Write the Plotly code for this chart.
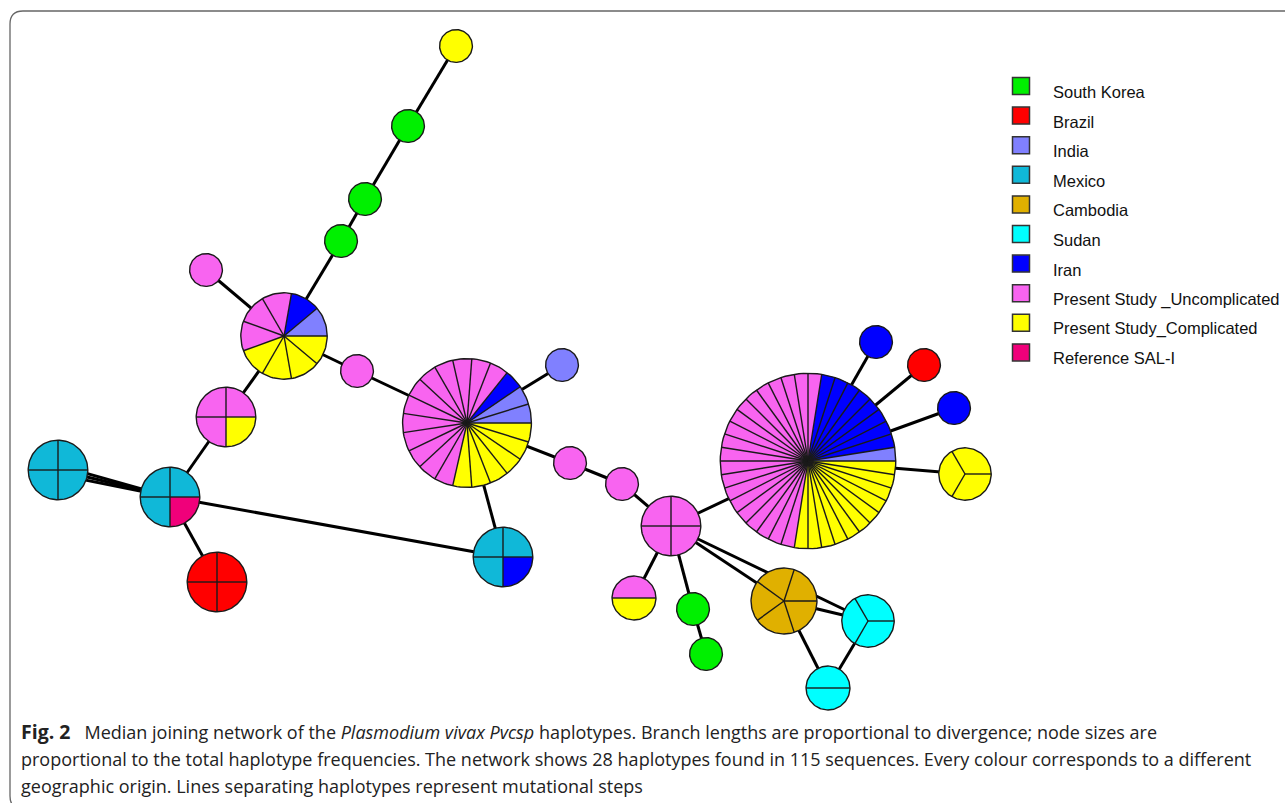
import numpy as np
import plotly.graph_objects as go

# ---------------- data ----------------
populations = ["South Korea", "Brazil", "India", "Mexico", "Cambodia", "Sudan", "Iran",
               "Present Study _Uncomplicated", "Present Study_Complicated", "Reference SAL-I"]
pop_colors = ["#00F000", "#FF0000", "#8080FF", "#10B8D8", "#E0B000", "#00FFFF", "#0000FF",
              "#F864F0", "#FFFF00", "#F0007A"]
# order in which slices are laid out (counter-clockwise from east) inside each node
slice_order = ["South Korea", "Brazil", "Cambodia", "Sudan", "Mexico", "Reference SAL-I",
               "India", "Iran", "Present Study _Uncomplicated", "Present Study_Complicated"]

# haplotype node positions (pixel layout of the network)
node_x = [456, 408, 365, 341, 206, 284, 357, 467, 562, 570, 622, 671, 808, 876,
          924, 954, 965, 634, 693, 706, 784, 868, 828, 226, 170, 58, 217, 503]
node_y = [46, 126, 199, 241, 270, 336, 371, 423, 365, 463, 484, 526, 461, 342,
          365, 408, 474, 598, 609, 654, 601, 621, 688, 417, 497, 470, 582, 557]

# sequence counts per haplotype (28 haplotypes) for each origin
south_korea   = [0, 1, 1, 1, 0, 0, 0, 0, 0, 0, 0, 0, 0, 0, 0, 0, 0, 0, 1, 1, 0, 0, 0, 0, 0, 0, 0, 0]
brazil        = [0, 0, 0, 0, 0, 0, 0, 0, 0, 0, 0, 0, 0, 0, 1, 0, 0, 0, 0, 0, 0, 0, 0, 0, 0, 0, 4, 0]
india         = [0, 0, 0, 0, 0, 1, 0, 2, 1, 0, 0, 0, 1, 0, 0, 0, 0, 0, 0, 0, 0, 0, 0, 0, 0, 0, 0, 0]
mexico        = [0, 0, 0, 0, 0, 0, 0, 0, 0, 0, 0, 0, 0, 0, 0, 0, 0, 0, 0, 0, 0, 0, 0, 0, 3, 4, 0, 3]
cambodia      = [0, 0, 0, 0, 0, 0, 0, 0, 0, 0, 0, 0, 0, 0, 0, 0, 0, 0, 0, 0, 5, 0, 0, 0, 0, 0, 0, 0]
sudan         = [0, 0, 0, 0, 0, 0, 0, 0, 0, 0, 0, 0, 0, 0, 0, 0, 0, 0, 0, 0, 0, 3, 2, 0, 0, 0, 0, 0]
iran          = [0, 0, 0, 0, 0, 1, 0, 1, 0, 0, 0, 0, 8, 1, 0, 1, 0, 0, 0, 0, 0, 0, 0, 0, 0, 0, 0, 1]
uncomplicated = [0, 0, 0, 0, 1, 3, 1, 12, 0, 1, 1, 4, 20, 0, 0, 0, 0, 1, 0, 0, 0, 0, 0, 3, 0, 0, 0, 0]
complicated   = [1, 0, 0, 0, 0, 4, 0, 6, 0, 0, 0, 0, 11, 0, 0, 0, 3, 1, 0, 0, 0, 0, 0, 1, 0, 0, 0, 0]
reference     = [0, 0, 0, 0, 0, 0, 0, 0, 0, 0, 0, 0, 0, 0, 0, 0, 0, 0, 0, 0, 0, 0, 0, 0, 1, 0, 0, 0]

# links (from, to, number of parallel strokes)
edges = [(0, 1, 1), (1, 2, 1), (2, 3, 1), (3, 5, 1), (4, 5, 1), (5, 6, 1), (5, 23, 1),
         (6, 7, 1), (7, 8, 1), (7, 9, 1), (7, 27, 1), (9, 10, 1), (10, 11, 1), (11, 12, 1),
         (12, 13, 1), (12, 14, 1), (12, 15, 1), (12, 16, 1), (11, 17, 1), (11, 18, 1),
         (18, 19, 1), (11, 20, 1), (11, 21, 1), (20, 21, 1), (20, 22, 1), (21, 22, 1),
         (23, 24, 1), (24, 25, 3), (24, 27, 1), (24, 26, 1)]

caption_lines = [
    "<b><span style='font-size:19.5px'>Fig. 2</span></b>&nbsp;&nbsp; Median joining network of the "
    "<i>Plasmodium vivax Pvcsp</i> haplotypes. Branch lengths are proportional to divergence; "
    "node sizes are",
    "proportional to the total haplotype frequencies. The network shows 28 haplotypes found in "
    "115 sequences. Every colour corresponds to a different",
    "geographic origin. Lines separating haplotypes represent mutational steps",
]

# ---------------- build ----------------
counts = {
    "South Korea": south_korea, "Brazil": brazil, "India": india, "Mexico": mexico,
    "Cambodia": cambodia, "Sudan": sudan, "Iran": iran,
    "Present Study _Uncomplicated": uncomplicated, "Present Study_Complicated": complicated,
    "Reference SAL-I": reference,
}
color_of = dict(zip(populations, pop_colors))
n_nodes = len(node_x)
totals = [sum(counts[p][i] for p in populations) for i in range(n_nodes)]
radius = [3 + 13.4 * np.sqrt(t) for t in totals]

fig = go.Figure()

# edges (parallel strokes fan out slightly at the far end)
ex, ey = [], []
for a, b, m in edges:
    dx, dy = node_x[b] - node_x[a], node_y[b] - node_y[a]
    L = np.hypot(dx, dy)
    px, py = -dy / L, dx / L
    for s in range(m):
        off = (s - (m - 1) / 2) * 4.5
        ex += [node_x[a], node_x[b] + off * px, None]
        ey += [node_y[a], node_y[b] + off * py, None]
fig.add_trace(go.Scatter(x=ex, y=ey, mode="lines", line=dict(color="black", width=3),
                         hoverinfo="skip", showlegend=False))

# slice fills, grouped per origin
fills = {p: ([], []) for p in populations}
ox, oy = [], []
for i in range(n_nodes):
    cx, cy, r, n = node_x[i], node_y[i], radius[i], totals[i]
    seq = []
    for p in slice_order:
        seq += [p] * counts[p][i]
    step = 2 * np.pi / n
    for k, p in enumerate(seq):
        th = np.linspace(k * step, (k + 1) * step, max(6, int(120 / n) + 2))
        if n > 1:
            xs = [cx] + list(cx + r * np.cos(th)) + [cx]
            ys = [cy] + list(cy - r * np.sin(th)) + [cy]
        else:
            xs = list(cx + r * np.cos(th))
            ys = list(cy - r * np.sin(th))
        fills[p][0].extend(xs + [None])
        fills[p][1].extend(ys + [None])
    th = np.linspace(0, 2 * np.pi, 121)
    ox += list(cx + r * np.cos(th)) + [None]
    oy += list(cy - r * np.sin(th)) + [None]
    if n > 1:
        for k in range(n):
            ox += [cx, cx + r * np.cos(k * step), None]
            oy += [cy, cy - r * np.sin(k * step), None]

for p in populations:
    if fills[p][0]:
        fig.add_trace(go.Scatter(x=fills[p][0], y=fills[p][1], mode="lines", fill="toself",
                                 fillcolor=color_of[p], line=dict(width=0, color=color_of[p]),
                                 hoverinfo="skip", showlegend=False))
fig.add_trace(go.Scatter(x=ox, y=oy, mode="lines", line=dict(color="#1a1a1a", width=1.4),
                         hoverinfo="skip", showlegend=False))

# legend (manual, to match the figure)
leg_x = 1021
leg_y0, leg_dy = 86, 29.6
leg_ys = [leg_y0 + k * leg_dy for k in range(len(populations))]
fig.add_trace(go.Scatter(x=[leg_x] * len(populations), y=leg_ys, mode="markers",
                         marker=dict(symbol="square", size=17, color=pop_colors,
                                     line=dict(color="#333333", width=1.5)),
                         hoverinfo="skip", showlegend=False))
annotations = []
for p, yy in zip(populations, leg_ys):
    annotations.append(dict(x=1051, y=yy + 6, xref="x", yref="y", text=p, showarrow=False,
                            xanchor="left", yanchor="middle",
                            font=dict(family="Liberation Sans, Arial", size=16.5, color="#111")))
for k, line in enumerate(caption_lines):
    annotations.append(dict(x=19, y=731 + k * 27.5, xref="x", yref="y", text=line,
                            showarrow=False, xanchor="left", yanchor="middle",
                            font=dict(family="Open Sans", size=18, color="#222")))

frame_path = "M 1300,11 L 23,11 Q 10,11 10,24 L 10,796 Q 10,809 23,809 L 1300,809"

fig.update_layout(
    width=1285, height=803,
    margin=dict(l=0, r=0, t=0, b=0),
    paper_bgcolor="white", plot_bgcolor="white",
    xaxis=dict(range=[0, 1285], visible=False, fixedrange=True),
    yaxis=dict(range=[803, 0], visible=False, fixedrange=True),
    annotations=annotations,
    shapes=[dict(type="path", path=frame_path, xref="x", yref="y",
                 line=dict(color="#666666", width=1.3), layer="below")],
)

fig.write_html("out.html", config={"displayModeBar": False},
               post_script="document.body.style.margin='0px';")
